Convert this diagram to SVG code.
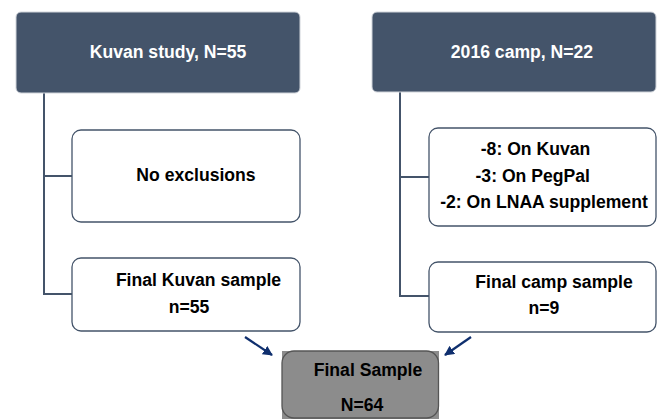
<svg xmlns="http://www.w3.org/2000/svg" width="660" height="420" viewBox="0 0 660 420">
<style>
.hdr{fill:#44546A;stroke:#D0D4DA;stroke-width:1}
.box{fill:#FFFFFF;stroke:#44546A;stroke-width:1.3}
.fin{fill:#8C8C8C}
.finb{fill:none;stroke:#555555;stroke-width:1.3}
.conn{fill:none;stroke:#44546A;stroke-width:2}
.arr{fill:none;stroke:#0F2F6E;stroke-width:2.2}
text{font-family:"Liberation Sans",Arial,Helvetica,sans-serif;font-weight:bold;font-size:17.6px;text-anchor:middle}
.w{fill:#FFFFFF}
.k{fill:#000000}
</style>
<defs>
<marker id="ah" viewBox="0 0 10 10" refX="9" refY="5" markerWidth="4.5" markerHeight="4.5" orient="auto" markerUnits="strokeWidth">
<path d="M0,0 L10,5 L0,10 z" fill="#0F2F6E"/>
</marker>
</defs>
<rect width="660" height="420" fill="#FFFFFF"/>
<g id="connectors">
<polyline class="conn" points="44,93 44,294 72,294"/>
<line class="conn" x1="44" y1="176" x2="72" y2="176"/>
<polyline class="conn" points="400,92 400,296 429,296"/>
<line class="conn" x1="400" y1="177" x2="429" y2="177"/>
<line class="arr" x1="245" y1="337" x2="272" y2="355" marker-end="url(#ah)"/>
<line class="arr" x1="471" y1="337" x2="445" y2="355" marker-end="url(#ah)"/>
</g>
<g id="kuvan-study">
<rect class="hdr" x="16" y="12" width="284" height="81" rx="5"/>
<text class="w" x="168" y="58">Kuvan study, N=55</text>
</g>
<g id="camp-2016">
<rect class="hdr" x="372" y="12" width="284" height="80" rx="5"/>
<text class="w" x="522" y="58">2016 camp, N=22</text>
</g>
<g id="no-exclusions">
<rect class="box" x="72" y="130" width="228" height="92" rx="9"/>
<text class="k" x="196" y="181">No exclusions</text>
</g>
<g id="camp-exclusions">
<rect class="box" x="429" y="128" width="227" height="98" rx="9"/>
<text class="k" x="535.5" y="155">-8: On Kuvan</text>
<text class="k" x="532.7" y="181.5">-3: On PegPal</text>
<text class="k" x="544" y="208">-2: On LNAA supplement</text>
</g>
<g id="final-kuvan">
<rect class="box" x="72" y="258" width="228" height="73" rx="9"/>
<text class="k" x="198.5" y="285.5">Final Kuvan sample</text>
<text class="k" x="189" y="312.5">n=55</text>
</g>
<g id="final-camp">
<rect class="box" x="429" y="262" width="227" height="70" rx="9"/>
<text class="k" x="554" y="287.5">Final camp sample</text>
<text class="k" x="544" y="314">n=9</text>
</g>
<g id="final-sample">
<rect class="fin" x="282" y="351" width="157" height="68"/>
<rect class="finb" x="282" y="351" width="156.5" height="67" rx="12"/>
<text class="k" x="368" y="376">Final Sample</text>
<text class="k" x="362" y="411">N=64</text>
</g>
</svg>
